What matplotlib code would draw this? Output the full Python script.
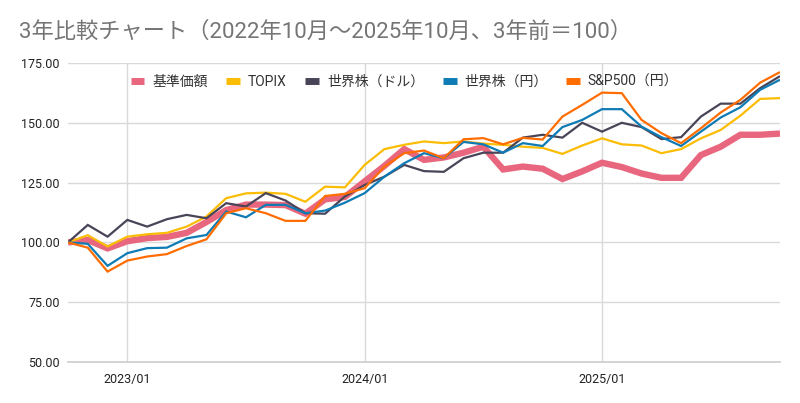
import numpy as np
import matplotlib.pyplot as plt

plt.rcParams['font.family'] = ['Roboto', 'Noto Sans CJK JP', 'DejaVu Sans']

# 2022/10 .. 2025/10 monthly, 3年前=100
months = ['2022/%02d' % m for m in range(10, 13)] + \
         ['2023/%02d' % m for m in range(1, 13)] + \
         ['2024/%02d' % m for m in range(1, 13)] + \
         ['2025/%02d' % m for m in range(1, 11)]

kijun = [100, 101, 97.5, 100.5, 101.8, 102.3, 104, 108.5, 113.5, 115.8, 115.8, 115.6,
         112, 118, 119, 125.5, 132, 139, 134.5, 135.5, 137.5, 140, 130.5, 131.7,
         130.8, 126.5, 129.7, 133.3, 131.5, 128.8, 127, 127, 136.5, 140, 145, 145, 145.5]
topix = [100, 103, 98.3, 102.4, 103.4, 104, 106.6, 110.8, 118.5, 120.5, 120.8, 120.3,
         117, 123.3, 123, 132.4, 139, 140.8, 142.2, 141.5, 142.2, 141.3, 140.8, 140,
         139.5, 137, 140.5, 143.5, 141, 140.5, 137.3, 139, 143.5, 147, 153, 160, 160.3]
world_usd = [100, 107.3, 102.4, 109.4, 106.6, 109.7, 111.5, 110.1, 116.4, 115, 120.6, 117.5,
             112.2, 112, 119.2, 124, 127.5, 132.4, 129.8, 129.5, 135.2, 137.5, 137.5, 143.8,
             145, 143.8, 150, 146.3, 150, 148.2, 143.2, 144, 152.6, 158, 158, 164.5, 169.5]
world_jpy = [100, 99.4, 90.2, 95.5, 97.6, 97.8, 101.7, 103.1, 112.9, 110.5, 115.7, 115.7,
             112.2, 113.3, 116.6, 120.6, 127.5, 133.1, 137.3, 135.2, 142, 141, 137.5, 141.5,
             140.3, 148.2, 151.2, 155.7, 155.7, 148.4, 144, 140.3, 146.3, 152.2, 156.5, 163.8, 168]
sp500_jpy = [100, 97.8, 87.8, 92.4, 94.1, 95.1, 98.5, 101.3, 112.2, 114.3, 112.2, 109,
             109, 119.4, 120.3, 122.7, 131.7, 137.3, 138.4, 135.2, 143.1, 143.6, 141, 143.7,
             143, 152.6, 157.5, 162.6, 162.4, 151.2, 145.7, 141.5, 147.7, 154.3, 159.6, 166.8, 171.2]

names = ['基準価額', 'TOPIX', '世界株（ドル）', '世界株（円）', 'S&P500（円）']
colors = ['#E8677E', '#FBBC04', '#4A4458', '#0E7BB5', '#FF6D01']
widths = [4.6, 1.6, 1.6, 1.6, 1.6]

x = np.arange(len(months))

fig = plt.figure(figsize=(8, 4.03), dpi=100)
ax = fig.add_axes([0.085, 0.1017, 0.89, 0.742])

for ys, n, c, w in zip([kijun, topix, world_usd, world_jpy, sp500_jpy], names, colors, widths):
    ax.plot(x, ys, color=c, lw=w, label=n, solid_joinstyle='miter', solid_capstyle='butt')

ax.set_ylim(50, 175)
ax.set_yticks([50, 75, 100, 125, 150, 175])
ax.set_yticklabels(['%.2f' % v for v in [50, 75, 100, 125, 150, 175]])
ax.set_xlim(0, len(months) - 1)
xt = [i for i, m in enumerate(months) if m.endswith('/01')]
ax.set_xticks(xt)
ax.set_xticklabels([months[i] for i in xt])

ax.grid(True, color='#d9d9d9', lw=1)
ax.set_axisbelow(True)
for s in ['top', 'right', 'left']:
    ax.spines[s].set_visible(False)
ax.spines['bottom'].set_color('#cccccc')
ax.spines['bottom'].set_linewidth(1.2)
ax.tick_params(length=0, labelsize=9, colors='#222222')
ax.tick_params(axis='x', pad=8)
ax.tick_params(axis='y', pad=6)

leg = ax.legend(loc='upper left', bbox_to_anchor=(118 / 800, 1 - 62 / 403), bbox_transform=fig.transFigure,
                ncol=5, frameon=False, fontsize=10, handlelength=1.0, handletextpad=0.55,
                columnspacing=1.35)
for h in leg.get_lines():
    h.set_linewidth(5)
for t in leg.get_texts():
    t.set_color('#333333')

fig.text(19 / 800, 1 - 32 / 403, '3年比較チャート（2022年10月～2025年10月、3年前＝100）',
         fontsize=16, color='#757575', va='center', ha='left')

fig.savefig('out.png', dpi=100)
